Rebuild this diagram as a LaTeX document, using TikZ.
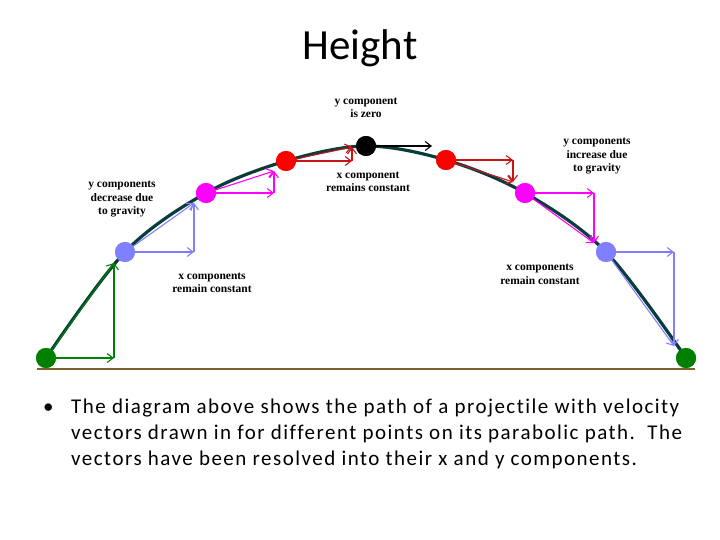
\documentclass[tikz,border=0pt]{standalone}
\usepackage{fontspec}
\setmainfont{Liberation Serif}
\newfontfamily\calib{Carlito}
\newfontfamily\calibw[LetterSpace=7,Ligatures=NoCommon]{Carlito}
\usetikzlibrary{arrows.meta}
\definecolor{pathc}{RGB}{10,60,60}
\definecolor{gnd}{RGB}{128,96,48}
\definecolor{cgreen}{RGB}{0,128,0}
\definecolor{cblue}{RGB}{128,128,255}
\definecolor{cmag}{RGB}{255,0,255}
\definecolor{cred}{RGB}{255,0,0}
\definecolor{cdred}{RGB}{200,20,20}
\tikzset{
  ball/.style={circle,fill=#1,inner sep=0pt,minimum size=20pt},
  vec/.style={draw=#1,line width=1.1pt,-{Straight Barb[length=6pt,width=9pt]}},
  lbl/.style={font=\fontsize{11.5}{13.5}\selectfont\bfseries,align=center,inner sep=0pt},
  txt/.style={font=\calibw\fontsize{21}{26}\selectfont,anchor=base west,inner sep=0pt}
}
\begin{document}
\begin{tikzpicture}[x=1pt,y=-1pt]
\useasboundingbox (0,0) rectangle (720,540);
% title
\node[font=\calib\fontsize{43}{45}\selectfont,inner sep=0pt,anchor=base] (title) at (360,60) {Height};
% ground
\coordinate (g1) at (37,369);
\coordinate (g2) at (695,369);
\draw[gnd,line width=2pt] (g1) -- (g2);
% path
\draw[pathc,line width=3.2pt,line cap=round] plot[smooth,tension=0.55] coordinates {(46,358) (125,252) (206,193) (286,161) (366,146) (446,160) (525,193) (606,252) (686,358)};
% tips
\coordinate (t1h) at (114,358); \coordinate (t1) at (114,263);
\coordinate (t2h) at (194,252); \coordinate (t2) at (194,203);
\coordinate (t3h) at (274,193); \coordinate (t3) at (274,171);
\coordinate (t4h) at (352,161); \coordinate (t4) at (352,147);
\coordinate (t5h) at (432,146);
\coordinate (t6h) at (513,160); \coordinate (t6) at (513,182);
\coordinate (t7h) at (594,193); \coordinate (t7) at (594,243);
\coordinate (t8h) at (674,252); \coordinate (t8) at (674,346);
% balls
\node[ball=cgreen] (b1) at (46,358) {};
\node[ball=cblue] (b2) at (125,252) {};
\node[ball=cmag] (b3) at (206,193) {};
\node[ball=cred] (b4) at (286,161) {};
\node[ball=black] (b5) at (366,146) {};
\node[ball=cred] (b6) at (446,160) {};
\node[ball=cmag] (b7) at (525,193) {};
\node[ball=cblue] (b8) at (606,252) {};
\node[ball=cgreen] (b9) at (686,358) {};
% vectors
\draw[vec=cgreen] (b1.center) -- (t1h);
\draw[vec=cgreen] (t1h) -- (t1);
\draw[vec=cgreen] (b1.center) -- (t1);
\draw[vec=cblue] (b2.center) -- (t2h);
\draw[vec=cblue] (t2h) -- (t2);
\draw[vec=cblue] (b2.center) -- (t2);
\draw[vec=cmag] (b3.center) -- (t3h);
\draw[vec=cmag] (t3h) -- (t3);
\draw[vec=cmag] (b3.center) -- (t3);
\draw[vec=cdred] (b4.center) -- (t4h);
\draw[vec=cdred] (t4h) -- (t4);
\draw[vec=cdred] (b4.center) -- (t4);
\draw[vec=black] (b5.center) -- (t5h);
\draw[vec=cdred] (b6.center) -- (t6h);
\draw[vec=cdred] (t6h) -- (t6);
\draw[vec=cdred] (b6.center) -- (t6);
\draw[vec=cmag] (b7.center) -- (t7h);
\draw[vec=cmag] (t7h) -- (t7);
\draw[vec=cmag] (b7.center) -- (t7);
\draw[vec=cblue] (b8.center) -- (t8h);
\draw[vec=cblue] (t8h) -- (t8);
\draw[vec=cblue] (b8.center) -- (t8);
% redraw balls on top
\foreach \n/\c in {b1/cgreen,b2/cblue,b3/cmag,b4/cred,b5/black,b6/cred,b7/cmag,b8/cblue,b9/cgreen}{
  \fill[\c] (\n) circle (10pt);
}
% labels
\node[lbl] (l1) at (366,108) {y component\\is zero};
\node[lbl] (l2) at (368,182) {x component\\remains constant};
\node[lbl] (l3) at (122,199.5) {y components\\decrease due\\to gravity};
\node[lbl] (l4) at (597,156.5) {y components\\increase due\\to gravity};
\node[lbl] (l5) at (212,283) {x components\\remain constant};
\node[lbl] (l6) at (540,274.5) {x components\\remain constant};
% bullet text
\node[txt] (bul) at (43,413) {•};
\node[txt] (p1) at (71,413) {The diagram above shows the path of a projectile with velocity};
\node[txt] (p2) at (71,439) {vectors drawn in for different points on its parabolic path.\ \ The};
\node[txt] (p3) at (71,465) {vectors have been resolved into their x and y components.};
\end{tikzpicture}
\end{document}
